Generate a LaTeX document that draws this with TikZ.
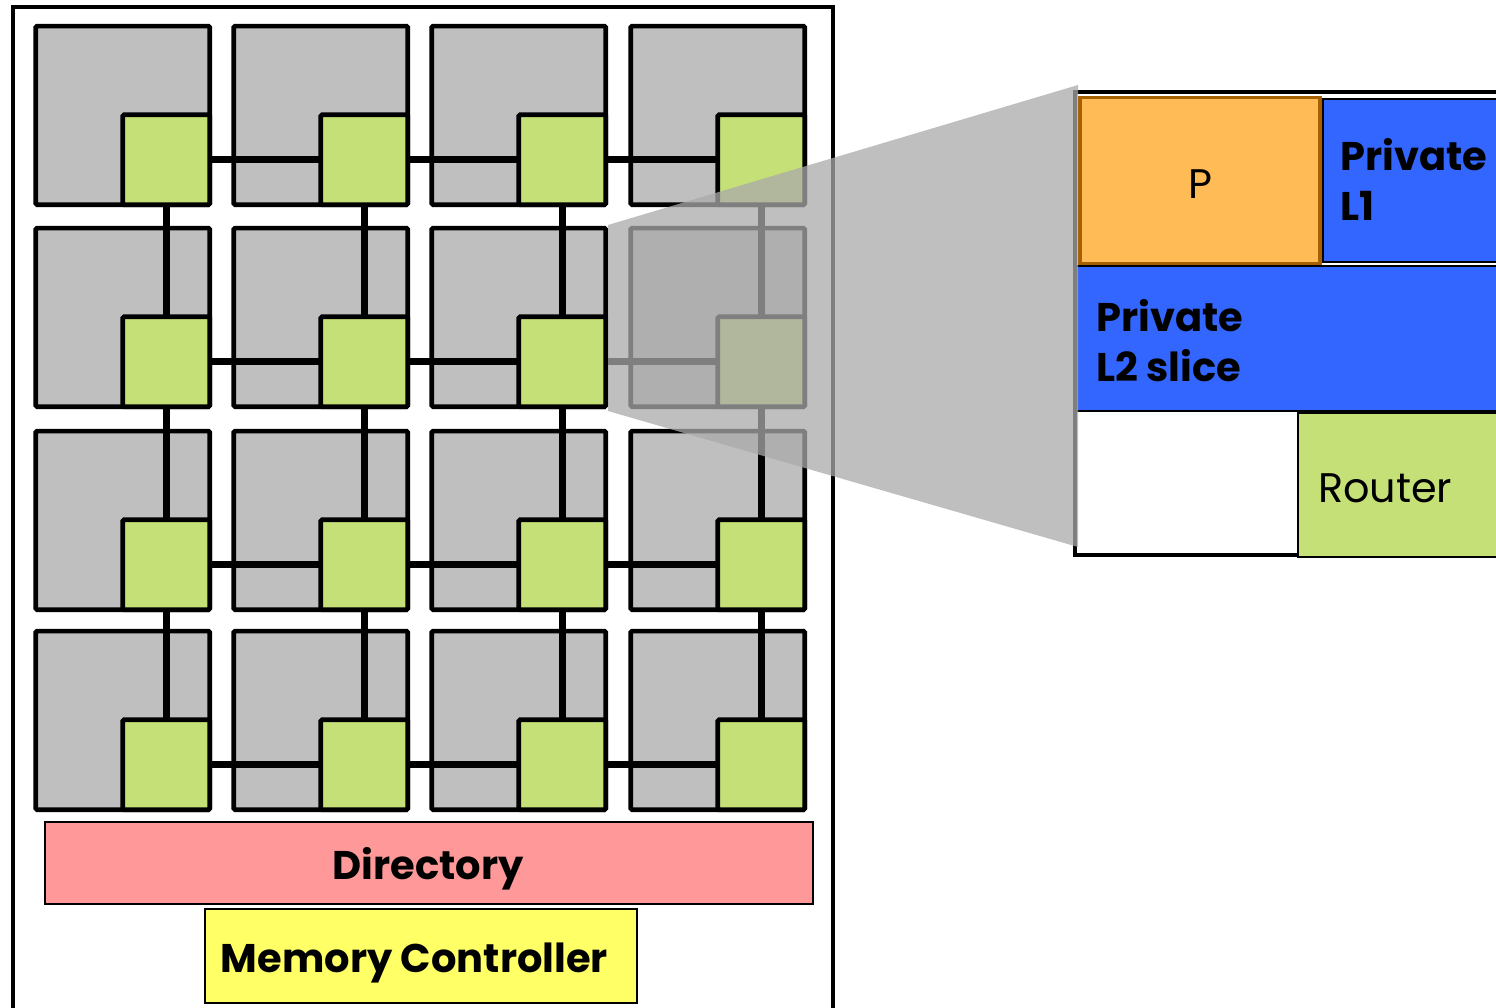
\documentclass[tikz,border=0pt]{standalone}
\usepackage{fontspec}
\setmainfont{Poppins}
\pgfdeclarelayer{tiles}
\pgfdeclarelayer{links}
\pgfsetlayers{tiles,links,main}

\definecolor{tilegray}{RGB}{191,191,191}
\definecolor{routergreen}{RGB}{198,224,120}
\definecolor{cpuorange}{RGB}{255,187,85}
\definecolor{cpuedge}{RGB}{166,96,0}
\definecolor{cacheblue}{RGB}{51,102,255}
\definecolor{dirpink}{RGB}{255,153,153}
\definecolor{mcyellow}{RGB}{255,255,102}
\definecolor{lensgray}{RGB}{170,170,170}

\tikzset{
  % one unit = one pixel of the 1496 x 1007 canvas, y pointing down
  tile/.style={draw=black, fill=tilegray, line width=3.4pt, rounded corners=1pt,
    inner sep=0pt, minimum width=130.5pt, minimum height=134pt, anchor=south east},
  router/.style={draw=black, fill=routergreen, line width=3.4pt, rounded corners=1pt,
    inner sep=0pt, minimum width=65.25pt, minimum height=67.5pt, anchor=south east},
  link/.style={draw=black, line width=4.9pt},
  frame/.style={draw=black, line width=3pt},
  block/.style={draw=black, line width=1.5pt, inner sep=0pt},
  lbl/.style={inner sep=0pt, font=\fontsize{31}{37.5}\selectfont},
  blbl/.style={inner sep=0pt, font=\fontsize{30}{37.5}\selectfont\bfseries},
}

\begin{document}
\begin{tikzpicture}[x=0.75pt, y=-0.75pt]
\clip (0,0) rectangle (1496,1007);

% chip outline, open at the bottom
\draw[frame] (12.5,1012) |- (832.5,7) -- (832.5,1012);

% 4 x 4 mesh: tiles with their routers in the lower right corner
\foreach \c/\xx in {1/212,2/410,3/608,4/807}{
  \foreach \r/\yy in {1/207,2/409,3/612,4/812}{
    \begin{pgfonlayer}{tiles}
      \node[tile] (t\r\c) at (\xx,\yy) {};
    \end{pgfonlayer}
    \node[router] (r\r\c) at (\xx,\yy) {};
  }
}

% mesh links between neighbouring routers
\begin{pgfonlayer}{links}
  \foreach \r in {1,...,4}{
    \foreach \a/\b in {1/2,2/3,3/4}{
      \draw[link] (r\r\a.center) -- (r\r\b.center);
      \draw[link] (r\a\r.center) -- (r\b\r.center);
    }
  }
\end{pgfonlayer}

% directory and memory controller
\node[block, fill=dirpink, minimum width=576pt, minimum height=61.5pt] (dir) at (429,863) {};
\node[blbl, anchor=base] (dirtext) at (428,879) {Directory};
\node[block, line width=2pt, fill=mcyellow, minimum width=324pt, minimum height=70.5pt] (mc) at (421,956) {};
\node[blbl, anchor=base] (mctext) at (414.5,972) {Memory Controller};

% magnified tile
\draw[frame] (1500,92) -| (1074.5,555) -- (1500,555);
\node[draw=cpuedge, fill=cpuorange, line width=2.3pt, inner sep=0pt,
      minimum width=180pt, minimum height=124.9pt] (cpu) at (1200,180.75) {};
\node[lbl, anchor=base] (cputext) at (1200,198) {P};
\node[block, fill=cacheblue, minimum width=132.75pt, minimum height=122.25pt] (l1) at (1411.5,180.5) {};
\node[blbl, anchor=base west, align=left] (l1text) at (1340,220) {Private\\L1};
\node[block, fill=cacheblue, minimum width=318pt, minimum height=108.75pt] (l2) at (1288,338.5) {};
\node[blbl, anchor=base west, align=left] (l2text) at (1096,381) {Private\\L2 slice};
\node[block, fill=routergreen, minimum width=151.5pt, minimum height=108pt] (rt) at (1399,485) {};
\node[lbl, anchor=base west] (rttext) at (1318,502) {Router};

% translucent projection from the mesh tile to its enlarged view
\coordinate (lensA) at (608,225);
\coordinate (lensB) at (1078,85);
\coordinate (lensC) at (1078,547);
\coordinate (lensD) at (608,411);
\fill[lensgray, opacity=0.75] (lensA) -- (lensB) -- (lensC) -- (lensD) -- cycle;
\end{tikzpicture}
\end{document}
